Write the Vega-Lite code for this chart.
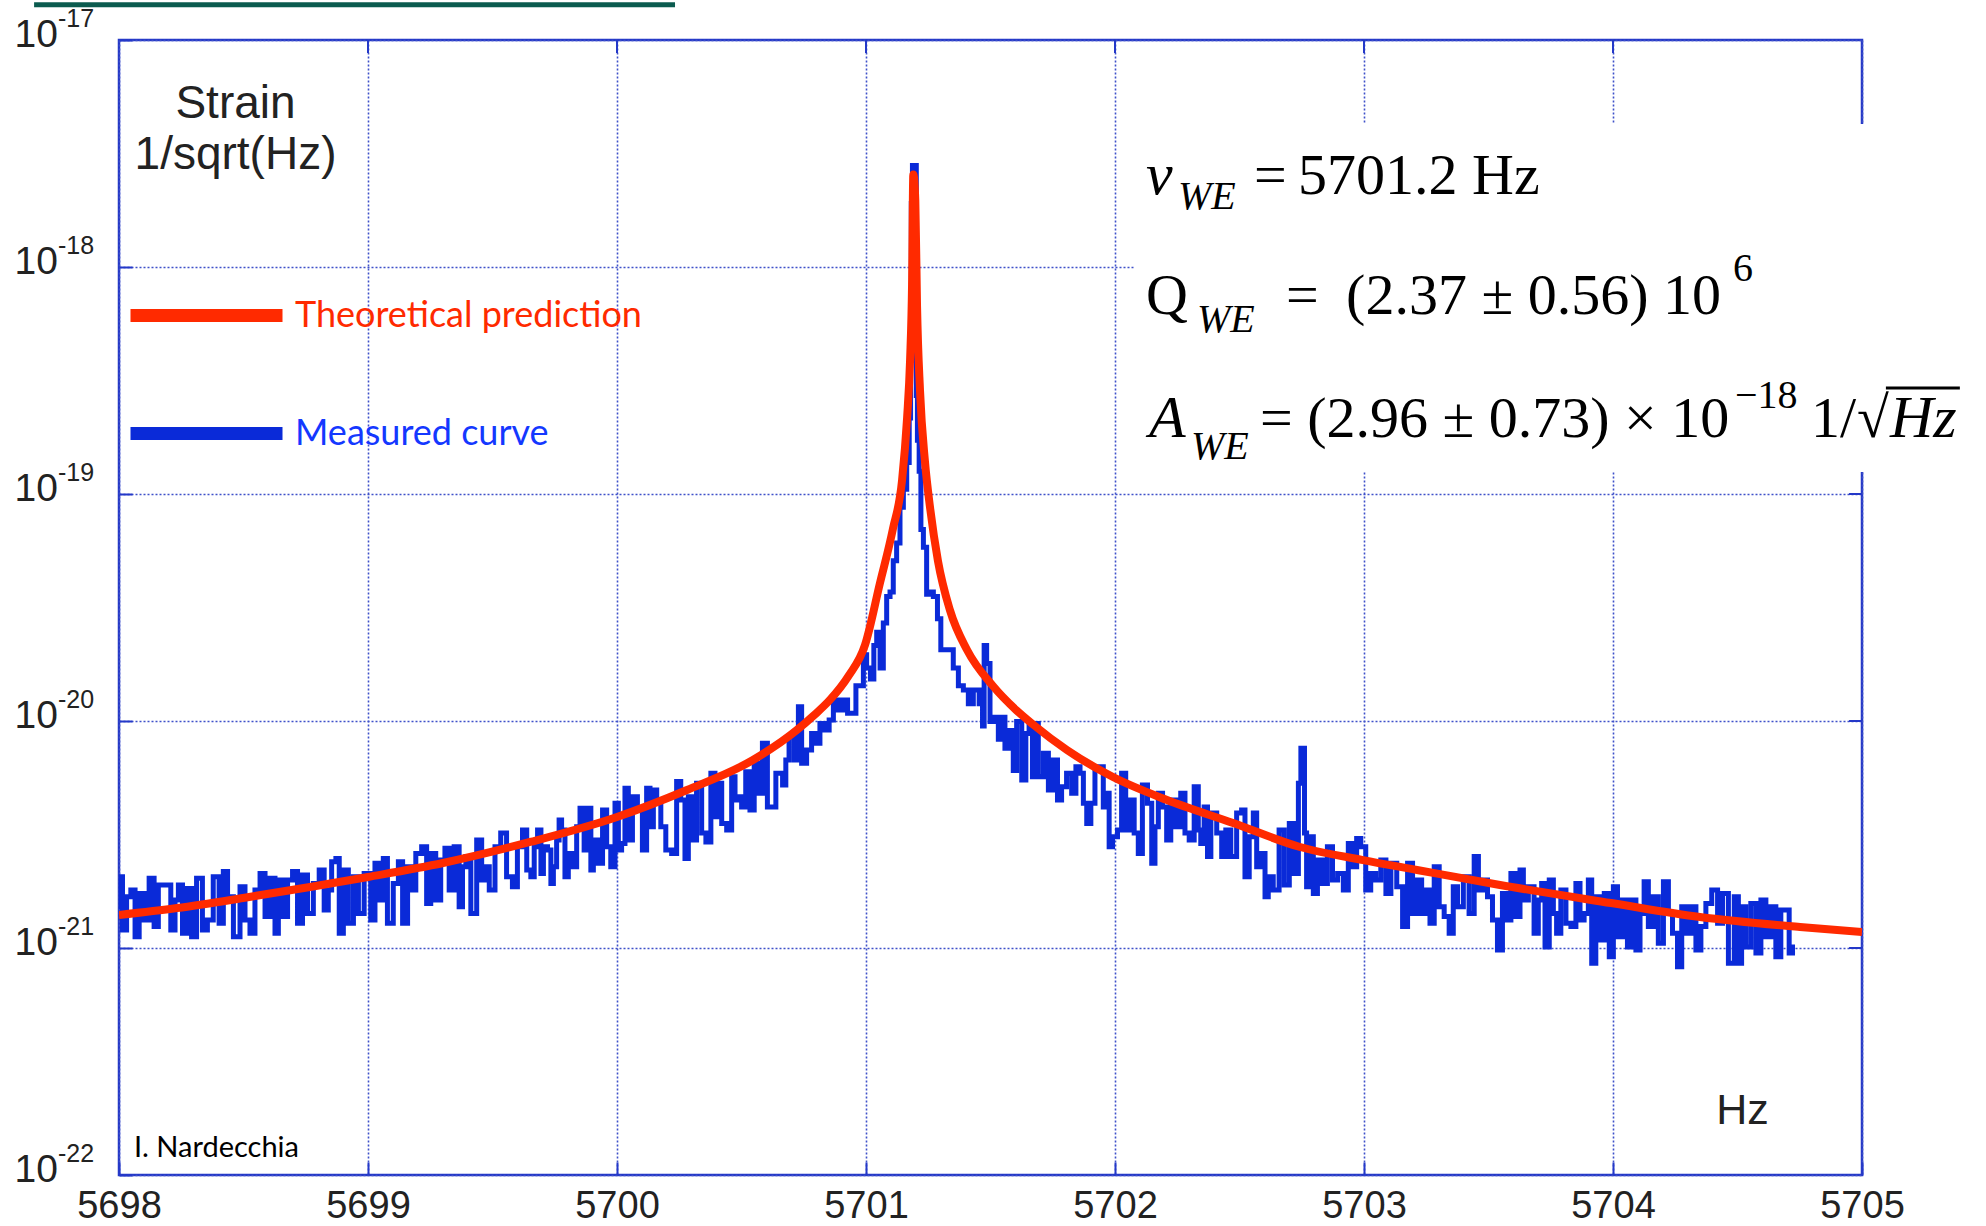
{
  "$schema": "https://vega.github.io/schema/vega-lite/v6.json",
  "width": 1743,
  "height": 1135,
  "autosize": {"type": "none"},
  "padding": {"left": 119, "top": 40, "right": 124, "bottom": 51},
  "background": "white",
  "config": {
    "view": {"stroke": "#2438c8", "strokeWidth": 2.5},
    "axis": {
      "domain": false,
      "grid": true,
      "gridColor": "#3f51c9",
      "gridDash": [2, 2],
      "gridWidth": 1.6,
      "ticks": true,
      "tickSize": -13,
      "tickColor": "#2438c8",
      "tickWidth": 2,
      "labelFont": "Liberation Sans",
      "labelColor": "#222222",
      "titleFont": "Liberation Sans",
      "titleColor": "#222222",
      "titleFontWeight": "normal",
      "labelFlush": false,
      "labelOverlap": false,
      "labelBound": false
    }
  },
  "datasets": {
    "measured": [
      {"f":5698.000,"s":1.52e-21},{"f":5698.004,"s":2.06e-21},{"f":5698.024,"s":1.20e-21},{"f":5698.037,"s":1.68e-21},{"f":5698.058,"s":1.80e-21},{"f":5698.071,"s":1.12e-21},{"f":5698.091,"s":1.74e-21},{"f":5698.111,"s":1.33e-21},{"f":5698.131,"s":2.03e-21},{"f":5698.151,"s":1.245e-21},{"f":5698.165,"s":1.895e-21},{"f":5698.198,"s":1.895e-21},{"f":5698.218,"s":1.20e-21},{"f":5698.232,"s":1.627e-21},{"f":5698.245,"s":1.895e-21},{"f":5698.265,"s":1.16e-21},{"f":5698.285,"s":1.83e-21},{"f":5698.298,"s":1.12e-21},{"f":5698.325,"s":2.03e-21},{"f":5698.345,"s":1.20e-21},{"f":5698.365,"s":1.33e-21},{"f":5698.392,"s":2.06e-21},{"f":5698.412,"s":1.285e-21},{"f":5698.426,"s":2.17e-21},{"f":5698.446,"s":1.68e-21},{"f":5698.473,"s":1.12e-21},{"f":5698.499,"s":1.86e-21},{"f":5698.513,"s":1.33e-21},{"f":5698.539,"s":1.16e-21},{"f":5698.553,"s":1.80e-21},{"f":5698.580,"s":2.13e-21},{"f":5698.593,"s":1.375e-21},{"f":5698.620,"s":2.03e-21},{"f":5698.633,"s":1.16e-21},{"f":5698.647,"s":1.994e-21},{"f":5698.667,"s":1.375e-21},{"f":5698.687,"s":1.994e-21},{"f":5698.707,"s":2.17e-21},{"f":5698.727,"s":1.285e-21},{"f":5698.747,"s":2.097e-21},{"f":5698.767,"s":1.42e-21},{"f":5698.794,"s":1.925e-21},{"f":5698.814,"s":2.207e-21},{"f":5698.834,"s":1.47e-21},{"f":5698.847,"s":1.80e-21},{"f":5698.861,"s":2.40e-21},{"f":5698.881,"s":2.48e-21},{"f":5698.888,"s":1.16e-21},{"f":5698.914,"s":2.207e-21},{"f":5698.928,"s":1.285e-21},{"f":5698.955,"s":2.06e-21},{"f":5698.968,"s":1.42e-21},{"f":5699.001,"s":2.13e-21},{"f":5699.021,"s":1.33e-21},{"f":5699.035,"s":2.36e-21},{"f":5699.055,"s":1.627e-21},{"f":5699.068,"s":2.48e-21},{"f":5699.088,"s":1.285e-21},{"f":5699.115,"s":1.925e-21},{"f":5699.129,"s":2.40e-21},{"f":5699.149,"s":1.285e-21},{"f":5699.169,"s":2.28e-21},{"f":5699.182,"s":1.80e-21},{"f":5699.202,"s":2.61e-21},{"f":5699.229,"s":2.79e-21},{"f":5699.242,"s":1.57e-21},{"f":5699.262,"s":2.61e-21},{"f":5699.282,"s":1.627e-21},{"f":5699.302,"s":2.44e-21},{"f":5699.316,"s":2.75e-21},{"f":5699.336,"s":1.80e-21},{"f":5699.356,"s":2.79e-21},{"f":5699.376,"s":1.52e-21},{"f":5699.383,"s":2.28e-21},{"f":5699.403,"s":2.53e-21},{"f":5699.423,"s":1.42e-21},{"f":5699.450,"s":2.99e-21},{"f":5699.463,"s":1.994e-21},{"f":5699.477,"s":2.28e-21},{"f":5699.497,"s":1.80e-21},{"f":5699.523,"s":2.79e-21},{"f":5699.543,"s":3.21e-21},{"f":5699.570,"s":2.06e-21},{"f":5699.590,"s":1.86e-21},{"f":5699.610,"s":2.79e-21},{"f":5699.631,"s":3.31e-21},{"f":5699.644,"s":2.207e-21},
      {"f":5699.664,"s":2.06e-21},{"f":5699.671,"s":2.79e-21},{"f":5699.691,"s":3.31e-21},{"f":5699.698,"s":2.13e-21},{"f":5699.711,"s":2.79e-21},{"f":5699.731,"s":2.70e-21},{"f":5699.738,"s":1.925e-21},{"f":5699.751,"s":2.28e-21},{"f":5699.764,"s":2.99e-21},{"f":5699.771,"s":3.66e-21},{"f":5699.784,"s":3.31e-21},{"f":5699.798,"s":2.06e-21},{"f":5699.811,"s":2.61e-21},{"f":5699.831,"s":2.28e-21},{"f":5699.845,"s":3.42e-21},{"f":5699.858,"s":4.13e-21},{"f":5699.878,"s":2.70e-21},{"f":5699.892,"s":4.13e-21},{"f":5699.898,"s":2.207e-21},{"f":5699.912,"s":2.99e-21},{"f":5699.932,"s":2.36e-21},{"f":5699.952,"s":4.055e-21},{"f":5699.965,"s":2.79e-21},{"f":5699.985,"s":2.28e-21},{"f":5699.999,"s":4.34e-21},{"f":5700.012,"s":2.70e-21},{"f":5700.025,"s":2.89e-21},{"f":5700.039,"s":5.05e-21},{"f":5700.052,"s":2.99e-21},{"f":5700.072,"s":4.64e-21},{"f":5700.092,"s":4.055e-21},{"f":5700.112,"s":2.70e-21},{"f":5700.126,"s":5.05e-21},{"f":5700.139,"s":3.42e-21},{"f":5700.153,"s":4.97e-21},{"f":5700.166,"s":4.49e-21},{"f":5700.186,"s":3.42e-21},{"f":5700.206,"s":2.70e-21},{"f":5700.233,"s":2.61e-21},{"f":5700.246,"s":5.41e-21},{"f":5700.266,"s":4.49e-21},{"f":5700.280,"s":2.48e-21},{"f":5700.293,"s":4.64e-21},{"f":5700.306,"s":2.99e-21},{"f":5700.333,"s":5.32e-21},{"f":5700.347,"s":3.21e-21},{"f":5700.367,"s":2.93e-21},{"f":5700.387,"s":5.88e-21},{"f":5700.400,"s":3.79e-21},{"f":5700.414,"s":5.32e-21},{"f":5700.427,"s":3.54e-21},{"f":5700.454,"s":3.31e-21},{"f":5700.467,"s":5.68e-21},{"f":5700.481,"s":4.49e-21},{"f":5700.494,"s":4.64e-21},{"f":5700.507,"s":4.18e-21},{"f":5700.527,"s":5.98e-21},{"f":5700.541,"s":4.055e-21},{"f":5700.561,"s":6.51e-21},{"f":5700.574,"s":4.80e-21},{"f":5700.594,"s":7.97e-21},{"f":5700.614,"s":4.18e-21},{"f":5700.635,"s":4.18e-21},{"f":5700.641,"s":5.88e-21},{"f":5700.655,"s":5.88e-21},{"f":5700.675,"s":5.225e-21},{"f":5700.681,"s":6.73e-21},{"f":5700.701,"s":8.53e-21},{"f":5700.722,"s":6.73e-21},{"f":5700.735,"s":1.156e-20},{"f":5700.748,"s":6.51e-21},{"f":5700.775,"s":7.45e-21},{"f":5700.788,"s":8.82e-21},{"f":5700.808,"s":7.97e-21},{"f":5700.822,"s":9.76e-21},{"f":5700.842,"s":9.13e-21},{"f":5700.862,"s":1.01e-20},{"f":5700.876,"s":1.238e-20},{"f":5700.896,"s":1.117e-20},{"f":5700.916,"s":1.238e-20},{"f":5700.936,"s":1.081e-20},
      {"f":5700.983,"s":1.43e-20},{"f":5700.996,"s":1.96e-20},{"f":5701.009,"s":1.71e-20},{"f":5701.027,"s":1.53e-20},{"f":5701.036,"s":2.15e-20},{"f":5701.050,"s":2.46e-20},{"f":5701.063,"s":1.71e-20},{"f":5701.076,"s":2.70e-20},{"f":5701.090,"s":3.54e-20},{"f":5701.103,"s":3.70e-20},{"f":5701.116,"s":5.08e-20},{"f":5701.130,"s":6.09e-20},{"f":5701.143,"s":8.75e-20},{"f":5701.157,"s":1.05e-19},{"f":5701.170,"s":1.376e-19},{"f":5701.177,"s":2.16e-19},{"f":5701.181,"s":7.69e-19},{"f":5701.183,"s":1.903e-18},{"f":5701.190,"s":2.798e-18},{"f":5701.201,"s":2.798e-18},{"f":5701.203,"s":2.716e-19},{"f":5701.210,"s":1.726e-19},{"f":5701.217,"s":1.258e-19},{"f":5701.224,"s":6.98e-20},{"f":5701.237,"s":5.82e-20},{"f":5701.250,"s":3.62e-20},{"f":5701.264,"s":3.70e-20},{"f":5701.277,"s":3.54e-20},{"f":5701.297,"s":2.82e-20},{"f":5701.304,"s":2.06e-20},{"f":5701.337,"s":2.06e-20},{"f":5701.364,"s":1.71e-20},{"f":5701.378,"s":1.43e-20},{"f":5701.404,"s":1.37e-20},{"f":5701.418,"s":1.19e-20},{"f":5701.444,"s":1.37e-20},{"f":5701.465,"s":1.19e-20},{"f":5701.471,"s":9.51e-21},{"f":5701.478,"s":2.15e-20},{"f":5701.491,"s":1.79e-20},{"f":5701.505,"s":9.96e-21},{"f":5701.525,"s":1.04e-20},{"f":5701.538,"s":8.30e-21},{"f":5701.551,"s":1.04e-20},{"f":5701.565,"s":7.59e-21},{"f":5701.585,"s":9.09e-21},{"f":5701.598,"s":6.05e-21},{"f":5701.612,"s":9.96e-21},
      {"f":5701.639,"s":5.50e-21},{"f":5701.645,"s":8.82e-21},{"f":5701.665,"s":9.76e-21},{"f":5701.672,"s":5.68e-21},{"f":5701.685,"s":9.76e-21},{"f":5701.699,"s":5.68e-21},{"f":5701.726,"s":7.21e-21},{"f":5701.739,"s":4.97e-21},{"f":5701.759,"s":6.73e-21},{"f":5701.779,"s":4.49e-21},{"f":5701.792,"s":5.13e-21},{"f":5701.819,"s":5.88e-21},{"f":5701.833,"s":4.80e-21},{"f":5701.853,"s":6.29e-21},{"f":5701.866,"s":5.88e-21},{"f":5701.880,"s":4.34e-21},{"f":5701.893,"s":3.54e-21},{"f":5701.913,"s":4.34e-21},{"f":5701.926,"s":6.29e-21},{"f":5701.946,"s":6.29e-21},{"f":5701.960,"s":4.18e-21},{"f":5701.973,"s":4.80e-21},{"f":5701.980,"s":2.79e-21},{"f":5702.000,"s":3.09e-21},{"f":5702.020,"s":3.31e-21},{"f":5702.033,"s":5.88e-21},{"f":5702.053,"s":3.31e-21},{"f":5702.067,"s":4.49e-21},{"f":5702.087,"s":3.21e-21},{"f":5702.100,"s":2.61e-21},{"f":5702.120,"s":5.225e-21},{"f":5702.141,"s":4.34e-21},{"f":5702.154,"s":2.36e-21},{"f":5702.167,"s":3.42e-21},{"f":5702.181,"s":4.80e-21},{"f":5702.201,"s":4.18e-21},{"f":5702.214,"s":2.99e-21},{"f":5702.234,"s":4.49e-21},{"f":5702.254,"s":3.42e-21},{"f":5702.274,"s":4.80e-21},{"f":5702.288,"s":3.21e-21},{"f":5702.308,"s":2.99e-21},{"f":5702.328,"s":5.13e-21},{"f":5702.341,"s":3.31e-21},{"f":5702.348,"s":2.89e-21},{"f":5702.368,"s":4.18e-21},{"f":5702.375,"s":2.53e-21},{"f":5702.395,"s":3.93e-21},{"f":5702.422,"s":3.21e-21},{"f":5702.435,"s":2.53e-21},{"f":5702.455,"s":3.31e-21},{"f":5702.475,"s":2.53e-21},{"f":5702.502,"s":3.93e-21},{"f":5702.515,"s":4.055e-21},{"f":5702.529,"s":2.06e-21},{"f":5702.549,"s":3.09e-21},{"f":5702.562,"s":3.93e-21},{"f":5702.576,"s":2.28e-21},{"f":5702.596,"s":2.61e-21},{"f":5702.609,"s":1.68e-21},{"f":5702.622,"s":2.06e-21},{"f":5702.649,"s":1.80e-21},{"f":5702.669,"s":3.31e-21},{"f":5702.690,"s":1.895e-21},{"f":5702.710,"s":3.54e-21},{"f":5702.730,"s":2.13e-21},{"f":5702.743,"s":5.32e-21},{"f":5702.750,"s":7.59e-21},{"f":5702.759,"s":7.59e-21},{"f":5702.763,"s":3.21e-21},{"f":5702.776,"s":1.86e-21},{"f":5702.790,"s":3.09e-21},{"f":5702.803,"s":1.74e-21},{"f":5702.823,"s":2.44e-21},{"f":5702.843,"s":1.925e-21},{"f":5702.863,"s":2.79e-21},{"f":5702.884,"s":1.994e-21},{"f":5702.904,"s":2.13e-21},{"f":5702.930,"s":1.80e-21},{"f":5702.944,"s":2.89e-21},{"f":5702.964,"s":2.28e-21},{"f":5702.977,"s":3.04e-21},{"f":5702.997,"s":2.79e-21},{"f":5703.017,"s":1.80e-21},{"f":5703.037,"s":2.13e-21},{"f":5703.057,"s":1.994e-21},{"f":5703.078,"s":2.44e-21},{"f":5703.098,"s":1.74e-21},{"f":5703.118,"s":2.36e-21},{"f":5703.145,"s":1.86e-21},
      {"f":5703.165,"s":1.245e-21},{"f":5703.185,"s":2.36e-21},{"f":5703.205,"s":1.42e-21},{"f":5703.225,"s":1.994e-21},{"f":5703.238,"s":1.42e-21},{"f":5703.258,"s":1.80e-21},{"f":5703.272,"s":1.285e-21},{"f":5703.292,"s":2.28e-21},{"f":5703.312,"s":1.52e-21},{"f":5703.332,"s":1.375e-21},{"f":5703.352,"s":1.16e-21},{"f":5703.365,"s":1.86e-21},{"f":5703.386,"s":1.52e-21},{"f":5703.412,"s":2.06e-21},{"f":5703.432,"s":1.42e-21},{"f":5703.453,"s":2.53e-21},{"f":5703.466,"s":1.80e-21},{"f":5703.486,"s":1.994e-21},{"f":5703.506,"s":1.68e-21},{"f":5703.526,"s":1.33e-21},{"f":5703.546,"s":0.98e-21},{"f":5703.566,"s":1.74e-21},{"f":5703.580,"s":1.33e-21},{"f":5703.600,"s":2.13e-21},{"f":5703.620,"s":1.375e-21},{"f":5703.633,"s":2.207e-21},{"f":5703.647,"s":1.627e-21},{"f":5703.673,"s":1.86e-21},{"f":5703.693,"s":1.16e-21},{"f":5703.707,"s":1.627e-21},{"f":5703.720,"s":1.925e-21},{"f":5703.734,"s":1.01e-21},{"f":5703.754,"s":1.994e-21},{"f":5703.767,"s":1.42e-21},{"f":5703.780,"s":1.16e-21},{"f":5703.801,"s":1.80e-21},{"f":5703.821,"s":1.285e-21},{"f":5703.841,"s":1.245e-21},{"f":5703.861,"s":1.925e-21},{"f":5703.874,"s":1.33e-21},{"f":5703.894,"s":1.42e-21},{"f":5703.908,"s":1.994e-21},{"f":5703.921,"s":0.856e-21},{"f":5703.941,"s":1.68e-21},{"f":5703.955,"s":1.084e-21},{"f":5703.975,"s":1.74e-21},{"f":5703.995,"s":0.915e-21},{"f":5704.008,"s":1.86e-21},{"f":5704.028,"s":1.12e-21},{"f":5704.048,"s":1.627e-21},{"f":5704.068,"s":1.01e-21},{"f":5704.082,"s":1.627e-21},{"f":5704.102,"s":0.98e-21},{"f":5704.115,"s":1.42e-21},{"f":5704.135,"s":1.96e-21},{"f":5704.149,"s":1.245e-21},{"f":5704.175,"s":1.68e-21},{"f":5704.189,"s":1.05e-21},{"f":5704.216,"s":1.96e-21},{"f":5704.229,"s":1.42e-21},{"f":5704.249,"s":1.16e-21},{"f":5704.269,"s":0.827e-21},{"f":5704.283,"s":1.52e-21},{"f":5704.303,"s":1.16e-21},{"f":5704.323,"s":1.52e-21},{"f":5704.343,"s":0.98e-21},{"f":5704.363,"s":1.245e-21},{"f":5704.383,"s":1.57e-21},{"f":5704.410,"s":1.80e-21},{"f":5704.430,"s":1.285e-21},{"f":5704.450,"s":1.74e-21},{"f":5704.477,"s":0.856e-21},{"f":5704.497,"s":1.68e-21},{"f":5704.510,"s":0.856e-21},{"f":5704.523,"s":1.52e-21},{"f":5704.543,"s":1.01e-21},{"f":5704.564,"s":1.57e-21},{"f":5704.584,"s":0.95e-21},{"f":5704.604,"s":1.627e-21},{"f":5704.624,"s":1.12e-21},{"f":5704.644,"s":1.52e-21},{"f":5704.664,"s":0.915e-21},{"f":5704.684,"s":1.47e-21},{"f":5704.704,"s":1.47e-21},{"f":5704.711,"s":0.95e-21},{"f":5704.731,"s":1.01e-21}
    ],
    "theory": [
      {"f":5698.000,"s":1.398e-21},{"f":5698.233,"s":1.500e-21},{"f":5698.498,"s":1.661e-21},{"f":5698.767,"s":1.857e-21},{"f":5699.000,"s":2.055e-21},{"f":5699.301,"s":2.368e-21},{"f":5699.651,"s":2.931e-21},{"f":5700.000,"s":3.777e-21},{"f":5700.281,"s":4.966e-21},{"f":5700.546,"s":6.73e-21},{"f":5700.723,"s":9.13e-21},{"f":5700.790,"s":1.057e-20},{"f":5700.855,"s":1.238e-20},{"f":5700.930,"s":1.58e-20},{"f":5700.996,"s":2.162e-20},{"f":5701.056,"s":4.05e-20},{"f":5701.108,"s":7.01e-20},{"f":5701.145,"s":1.153e-19},{"f":5701.165,"s":2.161e-19},{"f":5701.177,"s":3.89e-19},{"f":5701.185,"s":8.41e-19},{"f":5701.190,"s":2.556e-18},{"f":5701.198,"s":1.97e-18},{"f":5701.205,"s":6.73e-19},{"f":5701.217,"s":2.843e-19},{"f":5701.237,"s":1.383e-19},{"f":5701.257,"s":8.76e-20},{"f":5701.289,"s":5.07e-20},{"f":5701.337,"s":3.083e-20},{"f":5701.406,"s":2.055e-20},{"f":5701.510,"s":1.426e-20},{"f":5701.606,"s":1.11e-20},{"f":5701.671,"s":9.65e-21},{"f":5701.807,"s":7.45e-21},{"f":5701.992,"s":5.665e-21},{"f":5702.209,"s":4.487e-21},{"f":5702.474,"s":3.554e-21},{"f":5702.743,"s":2.786e-21},{"f":5702.996,"s":2.44e-21},{"f":5703.213,"s":2.207e-21},{"f":5703.546,"s":1.895e-21},{"f":5703.992,"s":1.578e-21},{"f":5704.349,"s":1.369e-21},{"f":5704.751,"s":1.237e-21},{"f":5705.000,"s":1.176e-21}
    ],
    "topticks": [
      {"f":5699,"s":1e-17,"s2":8.76e-18},{"f":5700,"s":1e-17,"s2":8.76e-18},{"f":5701,"s":1e-17,"s2":8.76e-18},{"f":5702,"s":1e-17,"s2":8.76e-18},{"f":5703,"s":1e-17,"s2":8.76e-18},{"f":5704,"s":1e-17,"s2":8.76e-18}
    ],
    "rightticks": [
      {"f":5704.948,"f2":5705,"s":1e-21},{"f":5704.948,"f2":5705,"s":1e-20},{"f":5704.948,"f2":5705,"s":1e-19},{"f":5704.948,"f2":5705,"s":1e-18}
    ],
    "box": [{"f":5702.08,"f2":5705.5,"s":4.27e-18,"s2":1.25e-19}],
    "topbar": [{"f":5697.659,"f2":5700.233,"s":1.43e-17}],
    "ann_reg": [
      {"f":5702.558,"s":2.10e-18,"t":"="},
      {"f":5702.735,"s":2.10e-18,"t":"5701.2 Hz"},
      {"f":5702.124,"s":6.21e-19,"t":"Q"},
      {"f":5702.687,"s":6.21e-19,"t":"="},
      {"f":5702.928,"s":6.21e-19,"t":"(2.37 ± 0.56) 10"},
      {"f":5702.582,"s":1.78e-19,"t":"= (2.96 ± 0.73) × 10"},
      {"f":5704.795,"s":1.78e-19,"t":"1/"},
      {"f":5704.980,"s":1.78e-19,"t":"√"}
    ],
    "ann_ital": [
      {"f":5702.124,"s":2.10e-18,"t":"ν"},
      {"f":5702.137,"s":1.78e-19,"t":"A"},
      {"f":5705.112,"s":1.78e-19,"t":"Hz"}
    ],
    "ann_sub": [
      {"f":5702.253,"s":1.80e-18,"t":"WE"},
      {"f":5702.329,"s":5.18e-19,"t":"WE"},
      {"f":5702.305,"s":1.433e-19,"t":"WE"}
    ],
    "ann_sup": [
      {"f":5704.482,"s":8.68e-19,"t":"6"},
      {"f":5704.490,"s":2.39e-19,"t":"−18"}
    ],
    "overline": [{"f":5705.096,"f2":5705.393,"s":2.93e-19}],
    "yexp": [
      {"s":1e-22,"e":"-22"},{"s":1e-21,"e":"-21"},{"s":1e-20,"e":"-20"},{"s":1e-19,"e":"-19"},{"s":1e-18,"e":"-18"},{"s":1e-17,"e":"-17"}
    ],
    "credit": [{"f":5698.06,"s":1.2e-22,"t":"I. Nardecchia"}]
  },
  "layer": [
    {
      "data": {"name": "measured"},
      "mark": {"type": "line", "strokeWidth": 5, "interpolate": "step", "clip": true},
      "encoding": {
        "x": {
          "field": "f", "type": "quantitative",
          "scale": {"domain": [5698, 5705], "nice": false, "zero": false},
          "axis": {
            "values": [5698, 5699, 5700, 5701, 5702, 5703, 5704, 5705],
            "format": "d",
            "labelFontSize": 38,
            "labelBaseline": "middle",
            "labelPadding": 44,
            "title": "Hz",
            "titleX": 1623,
            "titleY": -52,
            "titleAlign": "center",
            "titleBaseline": "alphabetic",
            "titleAngle": 0,
            "titleFontSize": 43
          }
        },
        "y": {
          "field": "s", "type": "quantitative",
          "scale": {"type": "log", "domain": [1e-22, 1e-17], "nice": false},
          "axis": {
            "values": [1e-22, 1e-21, 1e-20, 1e-19, 1e-18, 1e-17],
            "labelExpr": "'10'",
            "labelFontSize": 39,
            "labelAlign": "left",
            "labelBaseline": "middle",
            "labelPadding": 118,
            "labelOffset": -6,
            "title": ["Strain", "1/sqrt(Hz)"],
            "titleAngle": 0,
            "titleX": 116,
            "titleY": 77,
            "titleAlign": "center",
            "titleBaseline": "alphabetic",
            "titleFontSize": 46,
            "titleLineHeight": 51
          }
        },
        "color": {
          "datum": "Measured curve", "type": "nominal",
          "scale": {"domain": ["Theoretical prediction", "Measured curve"], "range": ["#ff2a00", "#0a2ad8"]},
          "legend": {
            "orient": "none",
            "legendX": 5,
            "legendY": 193,
            "title": null,
            "symbolType": "stroke",
            "symbolSize": 23104,
            "symbolStrokeWidth": 13,
            "labelFont": "Lato",
            "labelFontSize": 36,
            "labelOffset": 6,
            "labelLimit": 0,
            "rowPadding": 9,
            "padding": 0,
            "encode": {
              "symbols": {"update": {"strokeWidth": {"value": 13}, "stroke": {"signal": "datum.value === 'Measured curve' ? '#0d33ff' : '#ff2a00'"}}},
              "labels": {"update": {"fill": {"signal": "datum.value === 'Measured curve' ? '#1438ff' : '#ff2a00'"}}}
            }
          }
        }
      }
    },
    {
      "data": {"name": "theory"},
      "mark": {"type": "line", "strokeWidth": 8, "interpolate": "monotone", "strokeJoin": "round", "clip": true},
      "encoding": {
        "x": {"field": "f", "type": "quantitative"},
        "y": {"field": "s", "type": "quantitative"},
        "color": {"datum": "Theoretical prediction", "type": "nominal"}
      }
    },
    {
      "data": {"name": "topticks"},
      "mark": {"type": "rule", "strokeWidth": 2, "color": "#2438c8"},
      "encoding": {
        "x": {"field": "f", "type": "quantitative"},
        "y": {"field": "s", "type": "quantitative"},
        "y2": {"field": "s2"}
      }
    },
    {
      "data": {"name": "rightticks"},
      "mark": {"type": "rule", "strokeWidth": 2, "color": "#2438c8"},
      "encoding": {
        "x": {"field": "f", "type": "quantitative"},
        "x2": {"field": "f2"},
        "y": {"field": "s", "type": "quantitative"}
      }
    },
    {
      "data": {"name": "box"},
      "mark": {"type": "rect", "fill": "white"},
      "encoding": {
        "x": {"field": "f", "type": "quantitative"},
        "x2": {"field": "f2"},
        "y": {"field": "s", "type": "quantitative"},
        "y2": {"field": "s2"}
      }
    },
    {
      "data": {"name": "topbar"},
      "mark": {"type": "rule", "strokeWidth": 5, "color": "#0b5b4f"},
      "encoding": {
        "x": {"field": "f", "type": "quantitative"},
        "x2": {"field": "f2"},
        "y": {"field": "s", "type": "quantitative"}
      }
    },
    {
      "data": {"name": "ann_reg"},
      "mark": {"type": "text", "font": "Liberation Serif", "fontSize": 58, "align": "left", "baseline": "alphabetic", "color": "black"},
      "encoding": {
        "x": {"field": "f", "type": "quantitative"},
        "y": {"field": "s", "type": "quantitative"},
        "text": {"field": "t"}
      }
    },
    {
      "data": {"name": "ann_ital"},
      "mark": {"type": "text", "font": "Liberation Serif", "fontSize": 60, "fontStyle": "italic", "align": "left", "baseline": "alphabetic", "color": "black"},
      "encoding": {
        "x": {"field": "f", "type": "quantitative"},
        "y": {"field": "s", "type": "quantitative"},
        "text": {"field": "t"}
      }
    },
    {
      "data": {"name": "ann_sub"},
      "mark": {"type": "text", "font": "Liberation Serif", "fontSize": 40, "fontStyle": "italic", "align": "left", "baseline": "alphabetic", "color": "black"},
      "encoding": {
        "x": {"field": "f", "type": "quantitative"},
        "y": {"field": "s", "type": "quantitative"},
        "text": {"field": "t"}
      }
    },
    {
      "data": {"name": "ann_sup"},
      "mark": {"type": "text", "font": "Liberation Serif", "fontSize": 40, "align": "left", "baseline": "alphabetic", "color": "black"},
      "encoding": {
        "x": {"field": "f", "type": "quantitative"},
        "y": {"field": "s", "type": "quantitative"},
        "text": {"field": "t"}
      }
    },
    {
      "data": {"name": "overline"},
      "mark": {"type": "rule", "strokeWidth": 3, "color": "black"},
      "encoding": {
        "x": {"field": "f", "type": "quantitative"},
        "x2": {"field": "f2"},
        "y": {"field": "s", "type": "quantitative"}
      }
    },
    {
      "data": {"name": "yexp"},
      "mark": {"type": "text", "font": "Liberation Sans", "fontSize": 25, "align": "left", "baseline": "middle", "dx": -61, "dy": -21, "color": "#222222"},
      "encoding": {
        "x": {"datum": 5698, "type": "quantitative"},
        "y": {"field": "s", "type": "quantitative"},
        "text": {"field": "e"}
      }
    },
    {
      "data": {"name": "credit"},
      "mark": {"type": "text", "font": "Lato", "fontSize": 29, "align": "left", "baseline": "alphabetic", "color": "black"},
      "encoding": {
        "x": {"field": "f", "type": "quantitative"},
        "y": {"field": "s", "type": "quantitative"},
        "text": {"field": "t"}
      }
    }
  ]
}
